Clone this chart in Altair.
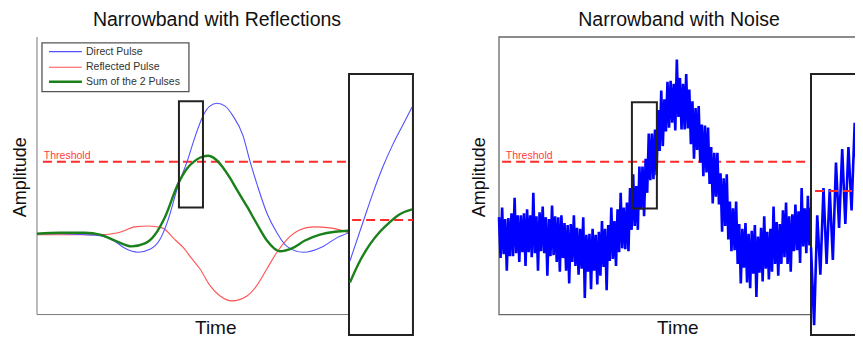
import altair as alt
import pandas as pd

FONT = "Liberation Sans"

TITLE_LEFT = "Narrowband with Reflections"
TITLE_RIGHT = "Narrowband with Noise"
X_TITLE = "Time"
Y_TITLE = "Amplitude"
THRESHOLD_LABEL = "Threshold"
LEGEND_LABELS = ["Direct Pulse", "Reflected Pulse", "Sum of the 2 Pulses"]
LEGEND_COLORS = ["#5252ff", "#ff5252", "#1a801a"]
LEGEND_WIDTHS = [1.1, 1.1, 2.4]

# ---- left panel: pulses (time units, amplitude units) ----
DIRECT_T = [0, 0.74, 1.54, 2.02, 2.5, 2.82, 3.24, 3.62, 3.94, 4.2, 4.52, 4.81, 5.06, 5.32,
            5.54, 5.77, 6.03, 6.28, 6.6, 6.83, 7.05, 7.37, 7.69, 8.01, 8.53, 9.17, 9.62, 10]
DIRECT_A = [1, 1, 0, -1, -7, -14, -18, -15, -5, 15, 50, 75, 100, 122,
            132, 135, 132, 122, 102, 75, 52, 22, 2, -12, -18, -12, -3, 2]

REFL_T = [0, 2.02, 2.6, 3.14, 3.56, 4.01, 4.42, 4.74, 4.9, 5.22, 5.54, 5.87, 6.25, 6.73,
          7.05, 7.37, 7.69, 8.01, 8.43, 8.85, 9.39, 10]
REFL_A = [0, 0, 2, 8, 9, 7, -5, -15, -22, -35, -52, -63, -68, -63,
          -52, -35, -18, -5, 5, 8, 7, 2]

SUM_T = [0, 0.74, 1.54, 2.02, 2.5, 3.04, 3.46, 3.78, 4.1, 4.52, 4.81, 5.03, 5.22, 5.48,
         5.74, 5.96, 6.19, 6.41, 6.73, 7.05, 7.37, 7.6, 7.79, 8.17, 8.59, 9.07, 9.55, 10]
SUM_A = [1, 2, 2, 0, -6, -12, -9, 0, 18, 52, 68, 75, 79, 81,
         77, 69, 58, 46, 29, 11, -6, -14, -17, -14, -6, 0, 3, 4]

ZOOM_DIRECT_T = [10.03, 10.45, 10.77, 11.09, 11.41, 11.73, 12.02]
ZOOM_DIRECT_A = [-27, 13, 43, 70, 93, 113, 131]
ZOOM_SUM_T = [10.03, 10.35, 10.67, 10.99, 11.31, 11.63, 12.02]
ZOOM_SUM_A = [-49, -27, -10, 3, 13, 21, 26]

# ---- right panel: noisy pulse, sampled every 0.05 time units ----
NOISE_STEP = 0.05
NOISE_A = [
    18, -24, 28, -20, 16, -37, 17, -22, 22, -22,
    38, -19, 20, -28, 20, -18, 22, -32, 26, -18,
    20, -23, 43, -19, 19, -37, 23, -17, 29, -19,
    18, -42, 16, -22, 30, -21, 19, -28, 18, -38,
    20, -24, 12, -37, 10, -50, 11, -28, 20, -32,
    7, -41, 6, -35, 18, -65, 0, -38, 1, -56,
    6, -37, 0, -51, 3, -42, 14, -33, 6, -57,
    10, -27, 28, -25, 14, -32, 26, -18, 43, -14,
    28, -15, 33, -17, 48, 5, 62, 9, 50, 5,
    70, 26, 70, 19, 78, 43, 104, 56, 104, 57,
    108, 61, 128, 86, 148, 91, 139, 106, 157, 110,
    158, 115, 155, 107, 180, 121, 161, 108, 155, 108,
    165, 109, 149, 93, 137, 78, 130, 87, 132, 74,
    113, 60, 112, 64, 110, 52, 90, 32, 84, 39,
    84, 31, 63, 3, 58, 9, 62, -5, 34, -17,
    27, -16, 34, -30, 11, -50, 6, -34, 12, -49,
    1, -55, 4, -40, 10, -64, -2, -39, 7, -48,
    19, -35, 3, -46, 6, -38, 29, -30, 13, -42,
    11, -30, 25, -23, 33, -30, 19, -38, 21, -17,
    31, -16, 24, -29, 48, -12, 27, -19, 40, -11,
    28,
]
ZOOM_NOISE_START = 10.0
ZOOM_NOISE_STEP = 0.1
ZOOM_NOISE_A = [-13, -93, 20, -41, 48, -30, 47, -26, 74, 7, 88, 11, 90, 25, 115, 41,
                120, 42, 125, 57, 130]

THRESHOLD = 75
ZOOM_THRESHOLD_LEFT = 15
ZOOM_THRESHOLD_RIGHT = 45

# ---- layout (in data units) ----
W, H = 847, 329
X_DOMAIN = [-0.929, 26.218]
Y_DOMAIN = [-105.05, 232.8]
RIGHT_SHIFT = 14.808          # right panel starts this many time units further right
MAIN_END = 10
FRAME_TOP, FRAME_BOTTOM = 203, -82
INSET_TOP, INSET_BOTTOM, INSET_END = 165, -103, 12.05
RIGHT_FRAME_END = 11.57
WINDOW_LEFT = dict(t=4.55, t2=5.32, a=28, a2=137)
WINDOW_RIGHT = dict(t=4.26, t2=5.06, a=27, a2=136)
TITLE_POS = dict(t=5.77, a=214.6)
XTITLE_POS = dict(t=5.73, a=-101.9)

XS = alt.Scale(domain=X_DOMAIN, nice=False, zero=False)
YS = alt.Scale(domain=Y_DOMAIN, nice=False, zero=False)


def X(f):
    return alt.X(f"{f}:Q", scale=XS, axis=None)


def Y(f):
    return alt.Y(f"{f}:Q", scale=YS, axis=None)


def shifted(df, shift):
    df = df.copy()
    for c in ("t", "t2", "tl"):
        if c in df:
            df[c] = df[c] + shift
    return df


def line(df, shift, color, width, interp="monotone"):
    return alt.Chart(shifted(df, shift)).mark_line(
        interpolate=interp, color=color, strokeWidth=width).encode(x=X("t"), y=Y("a"))


def box(row, shift, fill, stroke, width):
    kw = dict(stroke=stroke, strokeWidth=width)
    if fill is None:
        kw.update(fill="white", fillOpacity=0)
    else:
        kw.update(fill=fill)
    return alt.Chart(shifted(pd.DataFrame([row]), shift)).mark_rect(**kw).encode(
        x=X("t"), x2=alt.X2("t2"), y=Y("a"), y2=alt.Y2("a2"))


def segs(df, shift, color, width, dash=None):
    kw = dict(color=color, strokeWidth=width)
    if dash:
        kw["strokeDash"] = dash
    return alt.Chart(shifted(df, shift)).mark_rule(**kw).encode(
        x=X("t"), x2=alt.X2("t2"), y=Y("a"), y2=alt.Y2("a2"))


def hline(t0, t1, a, shift, color, width, dash=None):
    return segs(pd.DataFrame({"t": [t0], "t2": [t1], "a": [a], "a2": [a]}),
                shift, color, width, dash)


def text(s, t, a, shift, size, color, align="left", angle=0):
    kw = dict(align=align, baseline="alphabetic", font=FONT, fontSize=size, color=color)
    if angle:
        kw["angle"] = angle
    return alt.Chart(shifted(pd.DataFrame({"t": [t], "a": [a], "s": [s]}), shift)).mark_text(
        **kw).encode(x=X("t"), y=Y("a"), text="s:N")


def panel_texts(title, shift, ytitle_t):
    return [
        text(title, TITLE_POS["t"], TITLE_POS["a"], shift, 19.5, "#111", "center"),
        text(X_TITLE, XTITLE_POS["t"], XTITLE_POS["a"], shift, 19, "#111", "center"),
        text(Y_TITLE, ytitle_t, 59, shift, 18, "#111", "center", 270),
        text(THRESHOLD_LABEL, 0.22, THRESHOLD + 3, shift, 10.5, "#ff3b3b"),
    ]


# ================= left panel =================
SL = 0
axes_df = pd.DataFrame({"t": [0, 0], "t2": [0, MAIN_END],
                        "a": [FRAME_BOTTOM, FRAME_BOTTOM], "a2": [FRAME_TOP, FRAME_BOTTOM]})
leg_df = pd.DataFrame({"label": LEGEND_LABELS, "color": LEGEND_COLORS, "w": LEGEND_WIDTHS,
                       "a": [188, 172, 157], "t": [0.385] * 3, "t2": [1.44] * 3,
                       "tl": [1.57] * 3})
leg_lines = alt.Chart(leg_df).mark_rule().encode(
    x=X("t"), x2=alt.X2("t2"), y=Y("a"),
    color=alt.Color("color:N", scale=None), strokeWidth=alt.StrokeWidth("w:Q", scale=None))
leg_text = alt.Chart(leg_df).mark_text(align="left", baseline="middle", font=FONT,
                                       fontSize=10.5, color="#333").encode(
    x=X("tl"), y=Y("a"), text="label:N")

left_layers = [
    segs(axes_df, SL, "#7a7a7a", 1),
    box(dict(t=0.16, t2=4.87, a=147, a2=197), SL, "white", "#555", 1.3),
    leg_lines, leg_text,
    hline(0.19, MAIN_END, THRESHOLD, SL, "#ff2a2a", 2, [9, 5]),
    line(pd.DataFrame({"t": REFL_T, "a": REFL_A}), SL, LEGEND_COLORS[1], 1.1),
    line(pd.DataFrame({"t": DIRECT_T, "a": DIRECT_A}), SL, LEGEND_COLORS[0], 1.1),
    line(pd.DataFrame({"t": SUM_T, "a": SUM_A}), SL, LEGEND_COLORS[2], 2.4),
    box(WINDOW_LEFT, SL, None, "#222", 2),
    box(dict(t=MAIN_END, t2=INSET_END, a=INSET_BOTTOM, a2=INSET_TOP), SL, "white", "#222", 2),
    hline(10.1, INSET_END, ZOOM_THRESHOLD_LEFT, SL, "#ff2a2a", 2, [9, 5]),
    line(pd.DataFrame({"t": ZOOM_DIRECT_T, "a": ZOOM_DIRECT_A}), SL, LEGEND_COLORS[0], 1.1),
    line(pd.DataFrame({"t": ZOOM_SUM_T, "a": ZOOM_SUM_A}), SL, LEGEND_COLORS[2], 2.4),
] + panel_texts(TITLE_LEFT, SL, -0.35)

# ================= right panel =================
SR = RIGHT_SHIFT
noise_df = pd.DataFrame({"t": [round(i * NOISE_STEP, 3) for i in range(len(NOISE_A))],
                         "a": NOISE_A})
zoom_noise_df = pd.DataFrame({"t": [round(ZOOM_NOISE_START + i * ZOOM_NOISE_STEP, 3)
                                    for i in range(len(ZOOM_NOISE_A))],
                              "a": ZOOM_NOISE_A})

right_layers = [
    box(dict(t=0, t2=RIGHT_FRAME_END, a=FRAME_BOTTOM, a2=FRAME_TOP), SR, None, "#666", 1.3),
    hline(0.1, MAIN_END, THRESHOLD, SR, "#ff2a2a", 2, [9, 5]),
    line(noise_df, SR, "#0000ff", 2.6, "linear"),
    box(WINDOW_RIGHT, SR, None, "#222", 2),
    box(dict(t=MAIN_END, t2=INSET_END, a=INSET_BOTTOM, a2=INSET_TOP), SR, "white", "#222", 2),
    line(zoom_noise_df, SR, "#0000ff", 2.6, "linear"),
    hline(10.13, INSET_END, ZOOM_THRESHOLD_RIGHT, SR, "#ff2a2a", 2, [9, 5]),
] + panel_texts(TITLE_RIGHT, SR, -0.45)

chart = alt.layer(*left_layers, *right_layers).properties(
    width=W, height=H, padding=0, background="white",
    autosize=alt.AutoSizeParams(type="none"),
).configure_view(stroke=None)

chart.save("out.html", embed_options={"renderer": "svg", "actions": False})
